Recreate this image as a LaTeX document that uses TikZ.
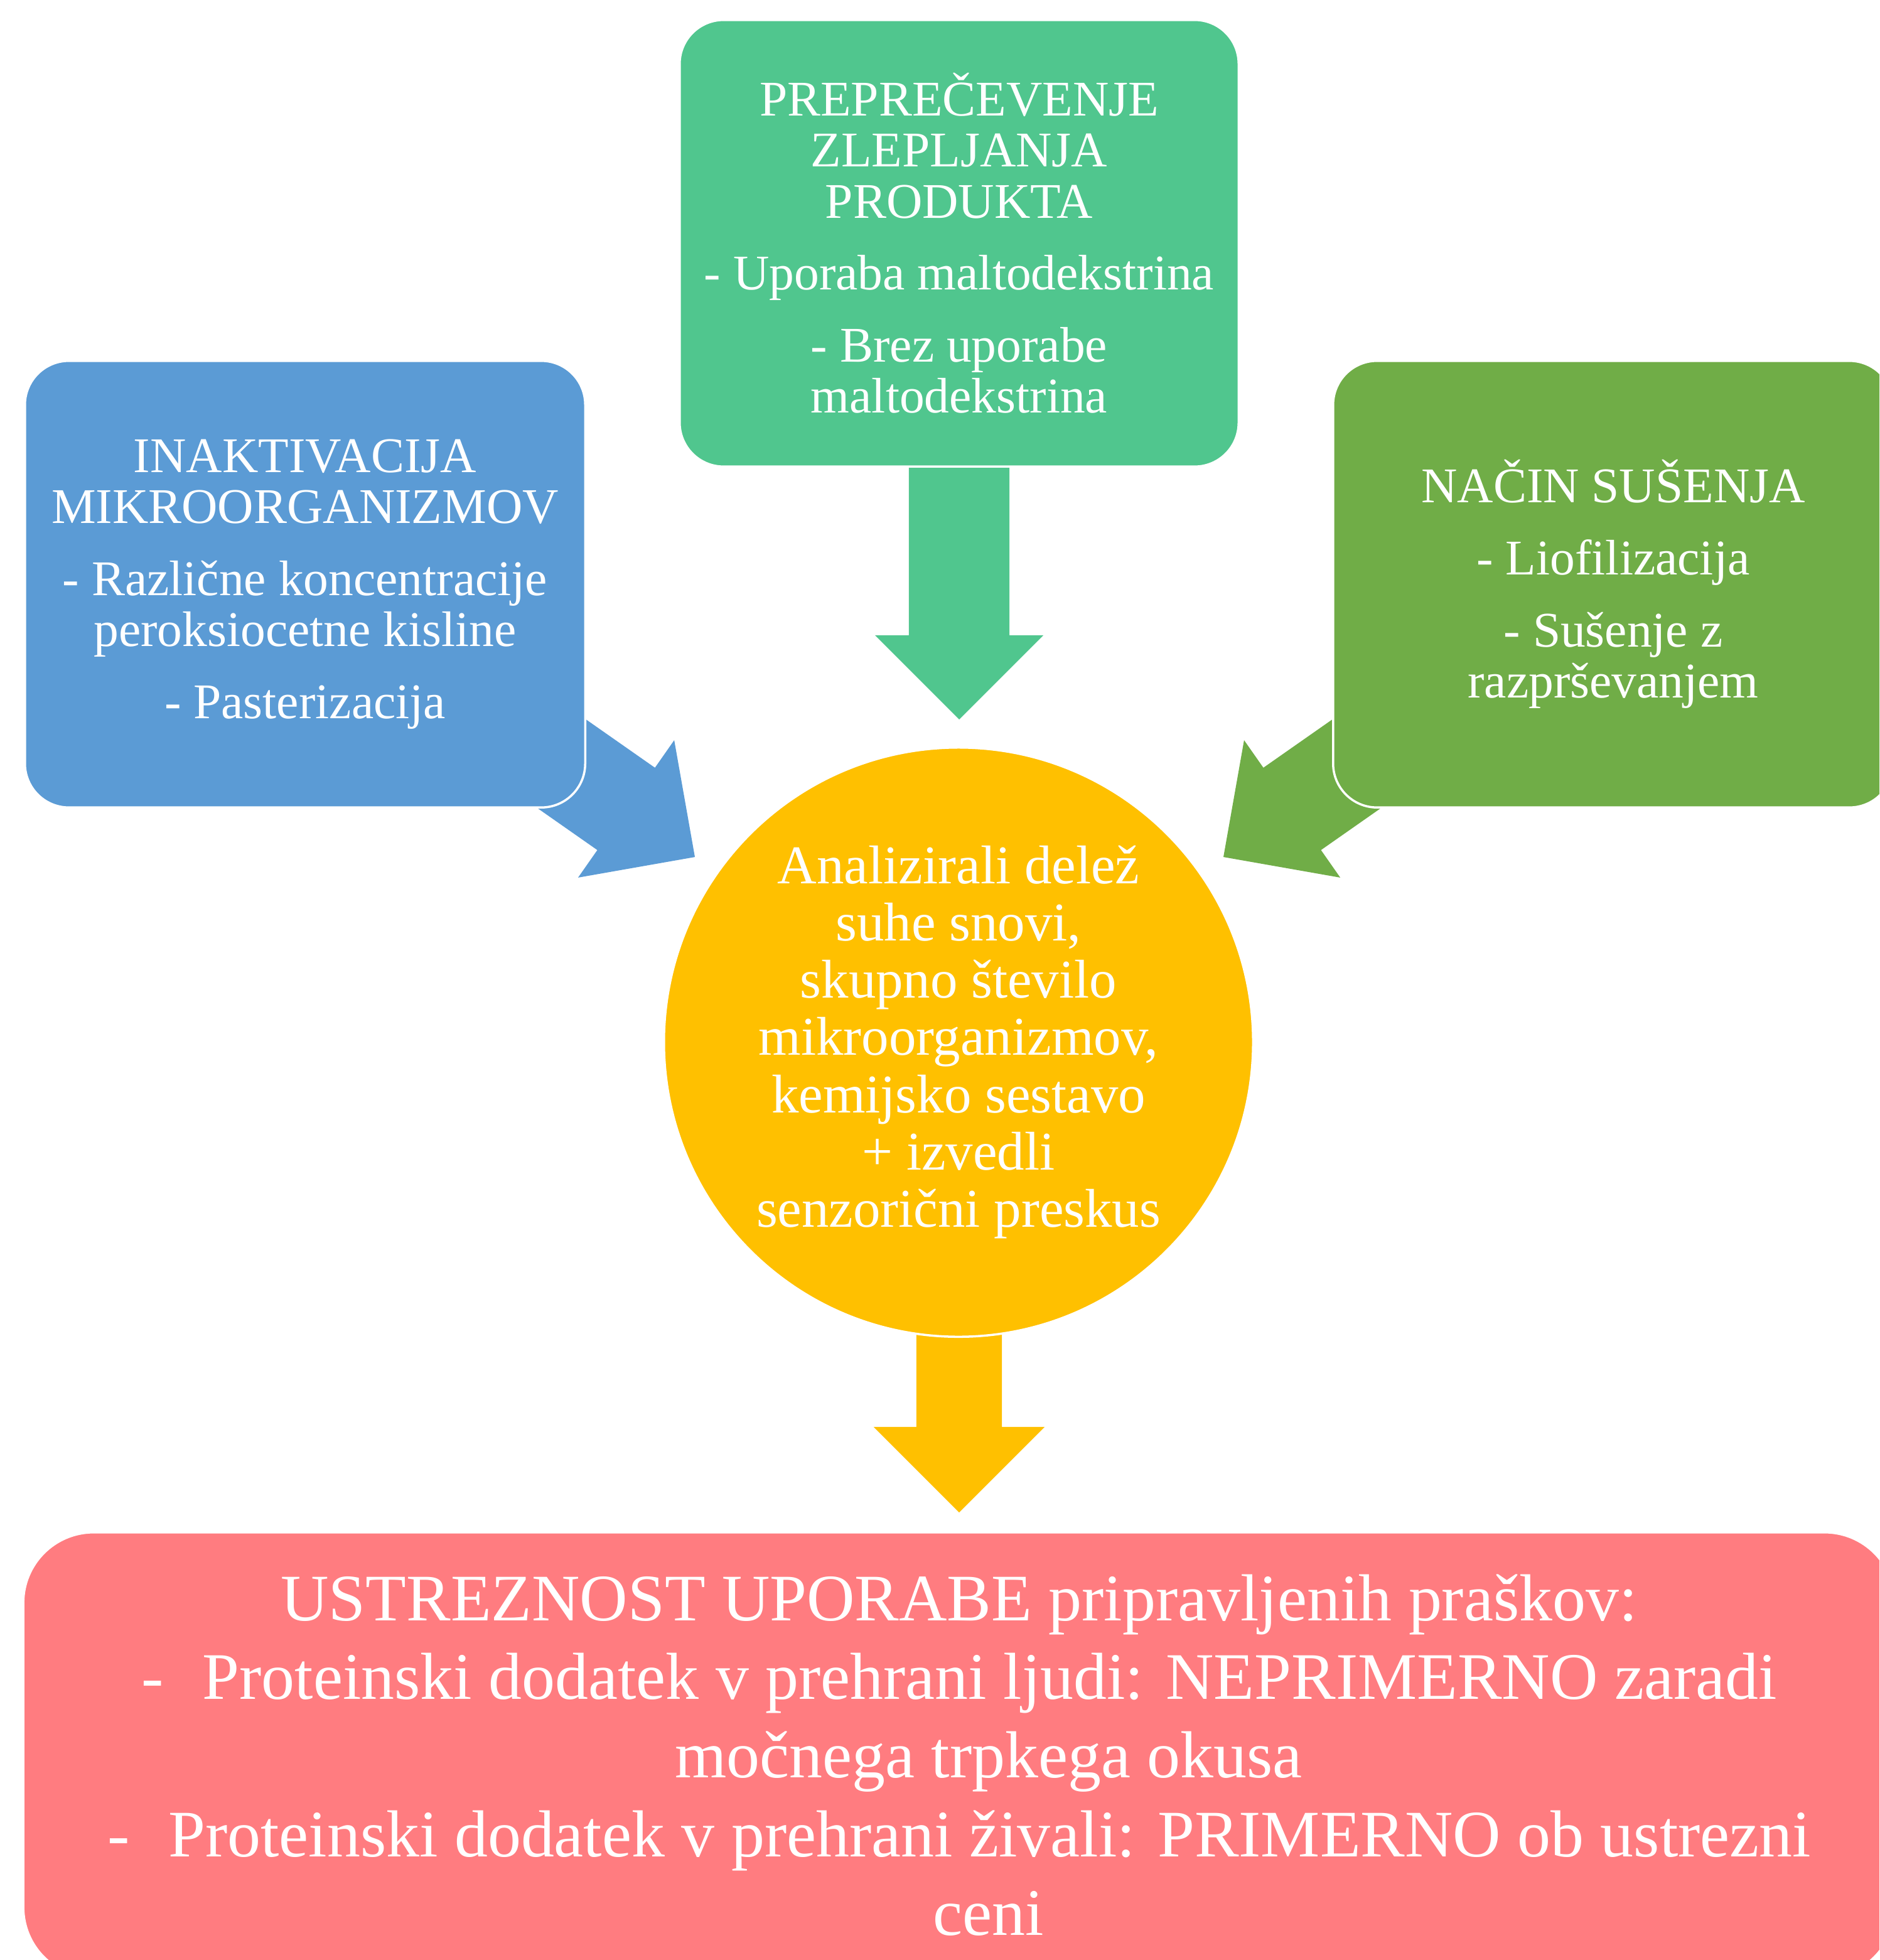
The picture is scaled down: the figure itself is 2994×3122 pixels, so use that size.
\documentclass[tikz,border=0pt]{standalone}
\usepackage{fontspec}
\setmainfont{Liberation Serif}
\usetikzlibrary{calc}
\definecolor{cBlue}{HTML}{5B9BD5}
\definecolor{cGreenA}{HTML}{50C68E}
\definecolor{cGreenB}{HTML}{70AD47}
\definecolor{cGold}{HTML}{FFC000}
\definecolor{cPink}{HTML}{FF7C80}
\newcommand\myblockarrow[6]{%
  \coordinate (hb) at ($(#2)!#5!(#1)$);
  \fill[#6] ($(#1)!#3!-90:(#2)$) -- ($(hb)!#3!-90:(#2)$) -- ($(hb)!#4!-90:(#2)$) -- (#2)
    -- ($(hb)!#4!90:(#2)$) -- ($(hb)!#3!90:(#2)$) -- ($(#1)!#3!90:(#2)$) -- cycle;}
\tikzset{
  box/.style={rectangle, rounded corners=0.7cm, draw=white, line width=1pt,
    text=white, align=center, inner sep=2pt,
    font=\fontsize{22.6}{23.1}\selectfont},
}
\begin{document}
\begin{tikzpicture}[x=0.01cm,y=-0.01cm]
\useasboundingbox (0,0) rectangle (2994,3122);
\clip (0,0) rectangle (2994,3122);
% arrow anchor points
\coordinate (aBs) at (751.7,1116.4);
\coordinate (aBt) at (1107,1365.1);
\coordinate (aRs) at (2304.3,1116.4);
\coordinate (aRt) at (1949,1365.1);
\coordinate (aTs) at (1528,735);
\coordinate (aTt) at (1528,1146);
\coordinate (aYs) at (1528,2100);
\coordinate (aYt) at (1528,2409);
% block arrows (drawn below the shapes)
\myblockarrow{aBs}{aBt}{0.8cm}{1.335cm}{1.336cm}{cBlue}
\myblockarrow{aRs}{aRt}{0.8cm}{1.335cm}{1.336cm}{cGreenB}
\myblockarrow{aTs}{aTt}{0.8cm}{1.34cm}{1.34cm}{cGreenA}
\myblockarrow{aYs}{aYt}{0.68cm}{1.36cm}{1.36cm}{cGold}
% boxes
\node[box, fill=cGreenA, minimum width=8.9cm, minimum height=7.11cm] (prep) at (1528,387.5)
  {PREPREČEVENJE\\ZLEPLJANJA\\PRODUKTA\\[9.5pt]- Uporaba maltodekstrina\\[9.5pt]- Brez uporabe\\maltodekstrina};
\node[box, fill=cBlue, minimum width=8.92cm, minimum height=7.11cm] (inakt) at (486,930.5)
  {INAKTIVACIJA\\MIKROORGANIZMOV\\[9.5pt]- Različne koncentracije\\peroksiocetne kisline\\[9.5pt]- Pasterizacija};
\node[box, fill=cGreenB, minimum width=8.92cm, minimum height=7.11cm] (susenje) at (2570,930.5)
  {NAČIN SUŠENJA\\[9.5pt]- Liofilizacija\\[9.5pt]- Sušenje z\\razprševanjem};
\node[circle, fill=cGold, draw=white, line width=1pt, text=white, align=center, inner sep=0pt,
  minimum size=9.38cm, font=\fontsize{24.7}{25.9}\selectfont] (anal) at (1527,1660)
  {Analizirali delež\\suhe snovi,\\skupno število\\mikroorganizmov,\\kemijsko sestavo\\+ izvedli\\senzorični preskus};
\node[box, rounded corners=1.12cm, fill=cPink, minimum width=29.8cm, minimum height=7.09cm,
  font=\fontsize{30.1}{35.6}\selectfont] (ustr) at (1528,2795.5)
  {USTREZNOST UPORABE pripravljenih praškov:\\
   -\hspace{0.62cm}Proteinski dodatek v prehrani ljudi: NEPRIMERNO zaradi\\
   \hspace*{0.94cm}močnega trpkega okusa\\
   -\hspace{0.62cm}Proteinski dodatek v prehrani živali: PRIMERNO ob ustrezni\\
   \hspace*{0.94cm}ceni};
\end{tikzpicture}
\end{document}
